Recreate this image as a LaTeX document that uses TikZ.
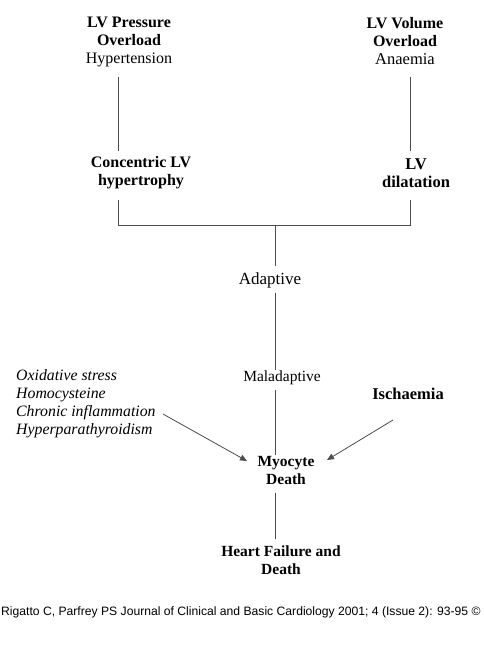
\documentclass[tikz,border=0pt]{standalone}
\usepackage{fontspec}
\setmainfont{Liberation Serif}
\newfontfamily\citefont{Liberation Sans}
\usetikzlibrary{arrows.meta}
\tikzset{
  lbl/.style={inner sep=0pt, align=center, font=\fontsize{15.5}{18}\selectfont},
  lblb/.style={lbl, font=\fontsize{15.5}{18}\selectfont\bfseries},
  conn/.style={draw=black!70, line width=0.8pt},
  arr/.style={conn, -{Triangle[length=7pt,width=6pt]}},
}
\begin{document}
\begin{tikzpicture}[x=1pt,y=-1pt]
\useasboundingbox (0,0) rectangle (483,661);
\clip (0,0) rectangle (483,661);
\fill[white] (0,0) rectangle (483,661);
% text nodes
\node[lbl, font=\fontsize{16}{18}\selectfont] (pres) at (129,42) {\textbf{LV Pressure}\\\textbf{Overload}\\Hypertension};
\node[lbl, font=\fontsize{16}{18}\selectfont] (vol) at (405,41) {\textbf{LV Volume}\\\textbf{Overload}\\\fontsize{16.5}{18}\selectfont Anaemia};
\node[lblb, font=\fontsize{16}{18}\selectfont\bfseries] (conc) at (141,173) {Concentric LV\\hypertrophy};
\node[lblb, font=\fontsize{16.5}{18}\selectfont\bfseries] (dil) at (416,173) {LV\\dilatation};
\node[lbl, font=\fontsize{17}{18}\selectfont] (adapt) at (270,280) {Adaptive};
\node[lbl] (malad) at (282,378) {Maladaptive};
\node[lbl, anchor=west, align=left, font=\fontsize{15.8}{18}\selectfont\itshape] (risk) at (16,404) {Oxidative stress\\Homocysteine\\Chronic inflammation\\Hyperparathyroidism};
\node[lblb, font=\fontsize{16.5}{18}\selectfont\bfseries] (isch) at (408,394) {Ischaemia};
\node[lblb] (myo) at (286,470.5) {Myocyte\\Death};
\node[lblb] (hf) at (281,560) {Heart Failure and\\Death};
\node[inner sep=0pt, anchor=west, font=\fontsize{12.15}{14}\selectfont\citefont] (cite) at (1,612) {Rigatto C, Parfrey PS Journal of Clinical and Basic Cardiology 2001; 4 (Issue 2): 93-95 \textcopyright};
% connector end points
\coordinate (pA) at (118,77);  \coordinate (pB) at (118,151);
\coordinate (vA) at (410,77);  \coordinate (vB) at (410,151);
\coordinate (cA) at (118,200); \coordinate (dA) at (410,200);
\coordinate (jL) at (118,225); \coordinate (jR) at (410,225);
\coordinate (jM) at (275,225);
\coordinate (aT) at (275,266); \coordinate (aB) at (275,293);
\coordinate (mT) at (275,370); \coordinate (mB) at (275,390);
\coordinate (myT) at (275,455); \coordinate (myB) at (275,493);
\coordinate (hT) at (275,539);
\coordinate (rS) at (163,414); \coordinate (rE) at (247,461);
\coordinate (iS) at (393,420); \coordinate (iE) at (327,460);
% connectors
\draw[conn] (pA) -- (pB);
\draw[conn] (vA) -- (vB);
\draw[conn] (cA) -- (jL) -- (jR) -- (dA);
\draw[conn] (jM) -- (aT);
\draw[conn] (aB) -- (mT);
\draw[conn] (mB) -- (myT);
\draw[conn] (myB) -- (hT);
\draw[arr] (rS) -- (rE);
\draw[arr] (iS) -- (iE);
\end{tikzpicture}
\end{document}
